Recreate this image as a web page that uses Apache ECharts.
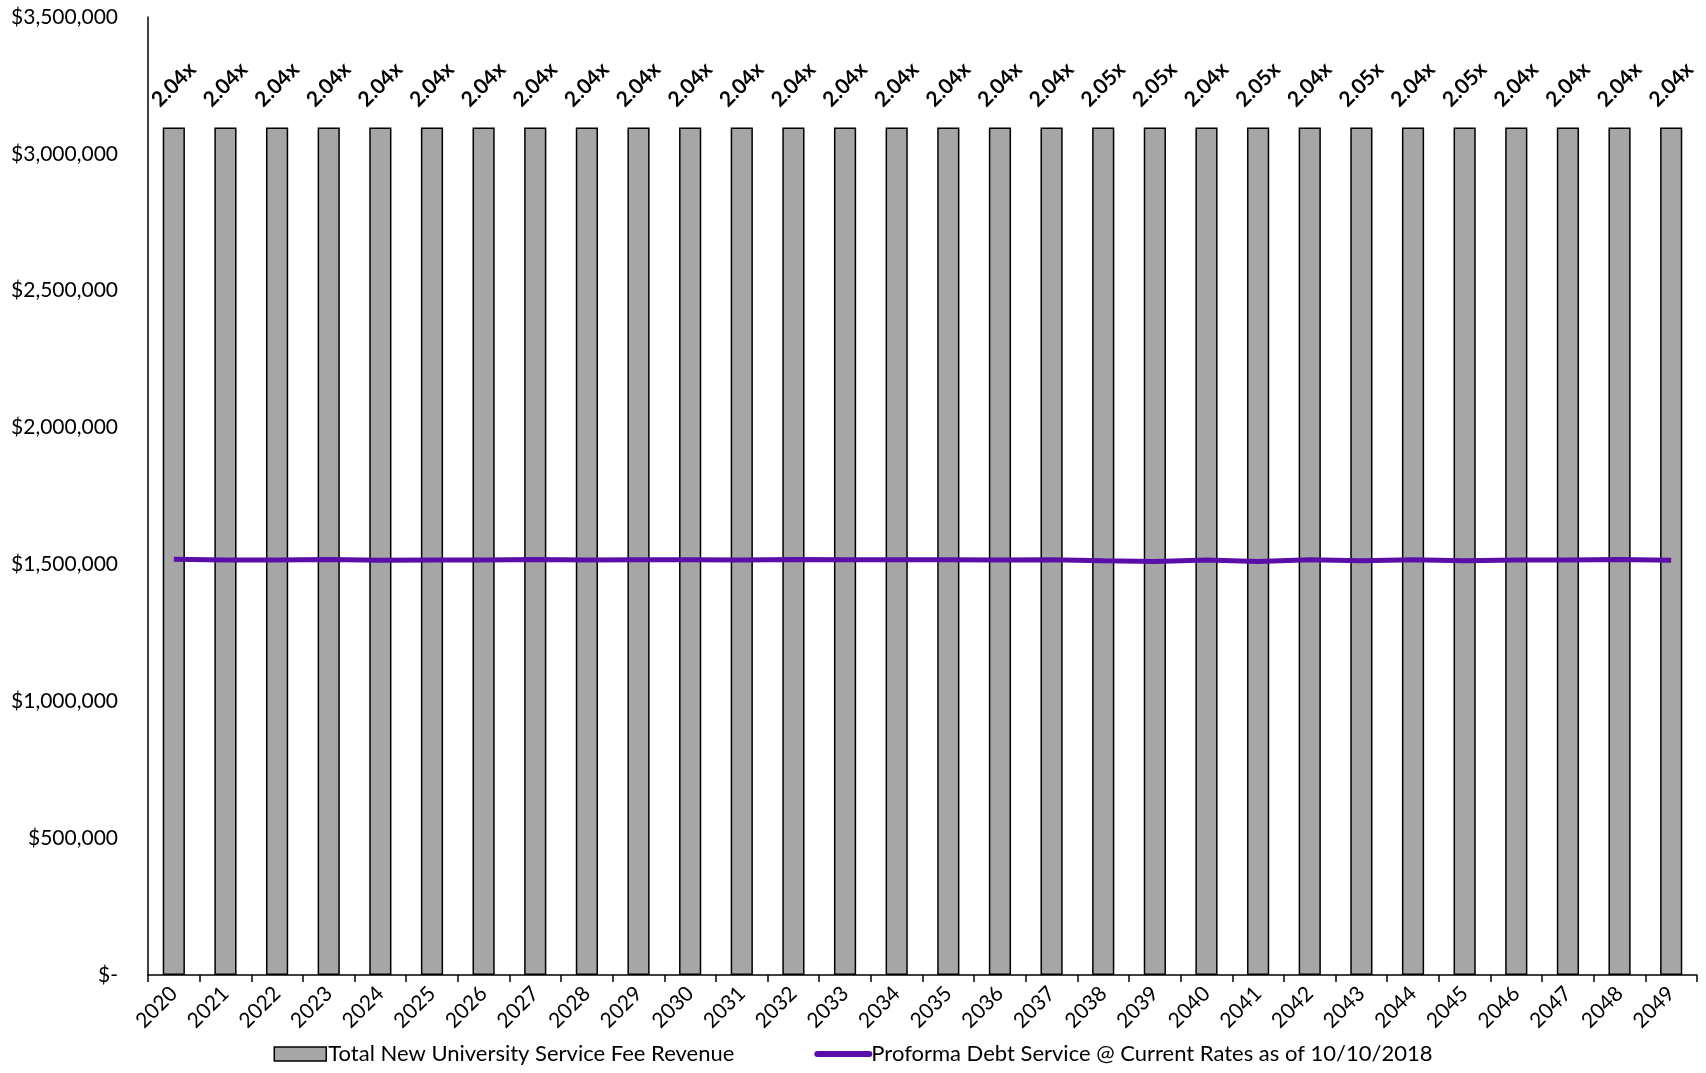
<!DOCTYPE html>
<html>
<head>
<meta charset="utf-8">
<script src="https://cdn.jsdelivr.net/npm/echarts@6/dist/echarts.min.js"></script>
<style>
html,body{margin:0;padding:0;background:#fff;}
#chart{width:1706px;height:1073px;}
</style>
</head>
<body>
<div id="chart"></div>
<script>
const years = ['2020','2021','2022','2023','2024','2025','2026','2027','2028','2029',
  '2030','2031','2032','2033','2034','2035','2036','2037','2038','2039',
  '2040','2041','2042','2043','2044','2045','2046','2047','2048','2049'];
const revenue = [3096000,3096000,3096000,3096000,3096000,3096000,3096000,3096000,3096000,3096000,
  3096000,3096000,3096000,3096000,3096000,3096000,3096000,3096000,3096000,3096000,
  3096000,3096000,3096000,3096000,3096000,3096000,3096000,3096000,3096000,3096000];
const debtService = [1519000,1516000,1516000,1518000,1515000,1516000,1516000,1518000,1516000,1517000,
  1517000,1516000,1518000,1517000,1517000,1517000,1516000,1517000,1513000,1511000,
  1516000,1511000,1517000,1513000,1517000,1513000,1516000,1516000,1518000,1515000];
const coverage = ['2.04x','2.04x','2.04x','2.04x','2.04x','2.04x','2.04x','2.04x','2.04x','2.04x',
  '2.04x','2.04x','2.04x','2.04x','2.04x','2.04x','2.04x','2.04x','2.05x','2.05x',
  '2.04x','2.05x','2.04x','2.05x','2.04x','2.05x','2.04x','2.04x','2.04x','2.04x'];
const yTicks = {min:0, max:3500000, interval:500000};

const chart = echarts.init(document.getElementById('chart'), null, {renderer:'canvas'});
const font = 'Lato, "Open Sans", sans-serif';
chart.setOption({
  backgroundColor:'#ffffff',
  animation:false,
  textStyle:{fontFamily:font, color:'#000'},
  grid:{left:148, right:9, top:17, bottom:98, containLabel:false},
  legend:{
    top:1043, left:'center', itemGap:80, itemWidth:52, itemHeight:14, padding:[0,5,0,5],
    textStyle:{fontFamily:font, fontSize:22, color:'#000', padding:[0,0,0,-3]},
    data:[
      {name:'Total New University Service Fee Revenue', icon:'rect',
        itemStyle:{color:'#a6a6a6', borderColor:'#000', borderWidth:1.5}},
      {name:'Proforma Debt Service @ Current Rates as of 10/10/2018',
        itemStyle:{opacity:0}, lineStyle:{width:6, cap:'round', color:'#5a0da8'}}
    ]
  },
  xAxis:{
    type:'category', data:years, boundaryGap:true,
    axisLine:{lineStyle:{color:'#000', width:1.5}},
    axisTick:{show:true, length:7, lineStyle:{color:'#000', width:1.5}},
    axisLabel:{rotate:45, fontSize:21, color:'#000', margin:15, fontFamily:font, interval:0},
    splitLine:{show:false}
  },
  yAxis:{
    type:'value', min:yTicks.min, max:yTicks.max, interval:yTicks.interval,
    axisLine:{show:true, lineStyle:{color:'#000', width:1.5}},
    axisTick:{show:false},
    splitLine:{show:false},
    axisLabel:{fontSize:21, color:'#000', margin:30, fontFamily:font,
      formatter:function(v){ return v===0 ? '$-' : '$' + v.toLocaleString('en-US'); }}
  },
  series:[
    {
      name:'Total New University Service Fee Revenue', type:'bar', data:revenue,
      barWidth:'43%',
      itemStyle:{color:'#a6a6a6', borderColor:'#000', borderWidth:1.5},
      label:{show:true, position:'top', distance:43, rotate:45, align:'center', verticalAlign:'middle',
        fontWeight:'bold', fontSize:21, color:'#000', fontFamily:font,
        formatter:function(p){ return coverage[p.dataIndex]; }},
      z:2
    },
    {
      name:'Proforma Debt Service @ Current Rates as of 10/10/2018', type:'line', data:debtService,
      symbol:'none', lineStyle:{color:'#5a0da8', width:5}, itemStyle:{color:'#5a0da8'},
      z:3
    }
  ]
});
</script>
</body>
</html>
